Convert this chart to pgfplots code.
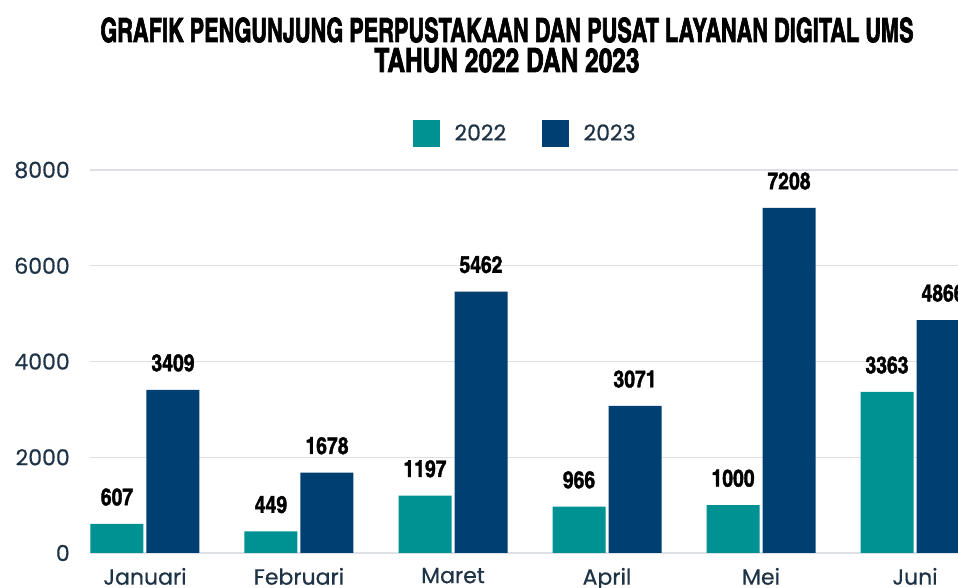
\documentclass[border=0pt]{standalone}
\usepackage{pgfplots}
\pgfplotsset{compat=1.18}
\usepackage{fontspec}
\setmainfont{Poppins}
\newfontfamily\tickfont{Poppins}[FakeBold=0.5]
\newfontfamily\cond{TeX Gyre Heros Cn}[FakeBold=1.6]
\newfontfamily\condtitle{TeX Gyre Heros Cn}[FakeBold=2.2]
\usetikzlibrary{calc}
\definecolor{teal22}{HTML}{009193}
\definecolor{navy23}{HTML}{003F72}
\definecolor{tickc}{HTML}{1F3346}
\definecolor{gridc}{HTML}{DDE1E5}
\definecolor{basec}{HTML}{C5CBD2}
\begin{document}
\begin{tikzpicture}
\begin{axis}[name=ax, scale only axis, width=651pt, height=287.25pt,
  xmin=-0.357, xmax=5.279, ymin=0, ymax=8000,
  ybar=2.25pt, bar width=39.75pt,
  xtick={0,1,2,3,4,5}, xticklabels={Januari,Februari,Maret,April,Mei,Juni},
  ytick={0,2000,4000,6000,8000},
  major tick length=0pt,
  axis line style={draw=none},
  ymajorgrids, major grid style={gridc, line width=1pt},
  extra y ticks={0}, extra y tick labels={},
  extra y tick style={grid style={basec, line width=1.5pt}},
  /pgf/number format/1000 sep={},
  /pgf/number format/assume math mode=true,
  scaled y ticks=false,
  tick label style={font=\tickfont\fontsize{16.5}{18}\selectfont, text=tickc},
  yticklabel style={anchor=east, inner sep=0pt, xshift=-15pt},
  xticklabel style={anchor=north, inner sep=0pt, yshift=-11pt},
  nodes near coords,
  nodes near coords style={font=\cond\bfseries\fontsize{17.7}{18}\selectfont, text=black, anchor=south, inner sep=0pt, yshift=13.5pt},
  legend columns=2,
  legend image code/.code={\path[#1] (0pt,-10pt) rectangle (20pt,10pt);},
  legend style={at={(0.502,1)}, anchor=center, yshift=27.4pt, draw=none,
    font=\tickfont\fontsize{16.5}{18}\selectfont, text=tickc,
    /tikz/every odd column/.append style={column sep=9pt},
    /tikz/every even column/.append style={column sep=25pt}},
]
\addplot[fill=teal22, draw=none] coordinates {(0,607) (1,449) (2,1197) (3,966) (4,1000) (5,3363)};
\addplot[fill=navy23, draw=none] coordinates {(0,3409) (1,1678) (2,5462) (3,3071) (4,7208) (5,4866)};
\legend{2022,2023}
\end{axis}
\node[font=\condtitle\bfseries\fontsize{25}{30}\selectfont, anchor=base] at ($(ax.north west)+(312.75pt,96pt)$) {\scalebox{0.795}[1]{GRAFIK PENGUNJUNG PERPUSTAKAAN DAN PUSAT LAYANAN DIGITAL UMS}};
\node[font=\condtitle\bfseries\fontsize{25}{30}\selectfont, anchor=base] at ($(ax.north west)+(312.75pt,73.5pt)$) {\scalebox{0.895}[1]{TAHUN 2022 DAN 2023}};
\pgfresetboundingbox
\path ($(ax.south west)+(-67.5pt,-26.25pt)$) rectangle ($(ax.north east)+(0pt,127.5pt)$);
\end{tikzpicture}
\end{document}
